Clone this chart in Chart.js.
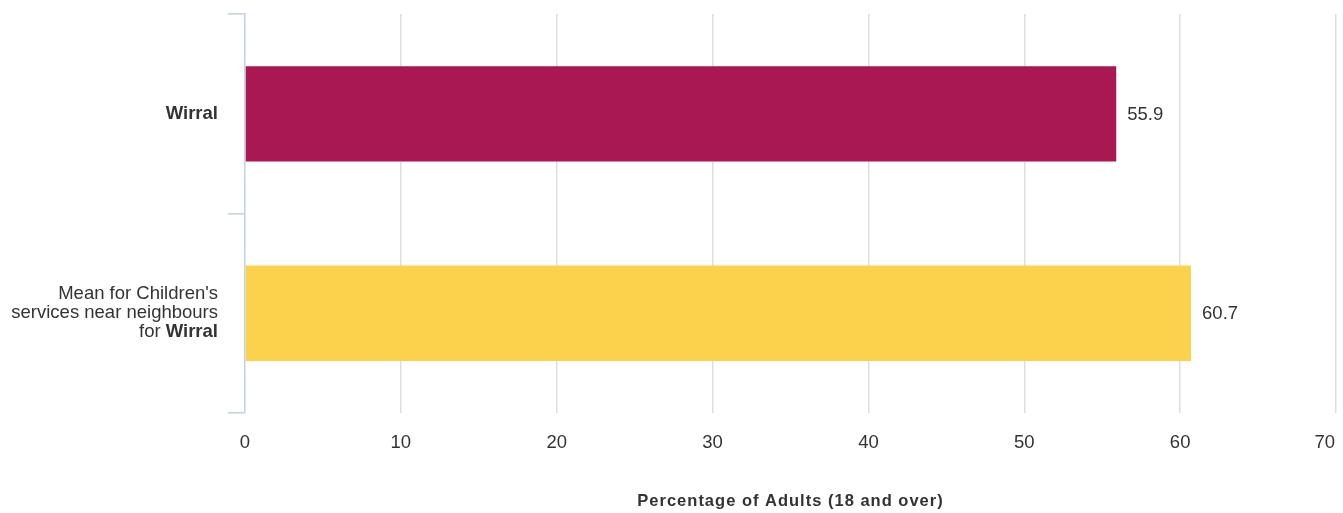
<!DOCTYPE html>
<html>
<head>
<meta charset="utf-8">
<script src="https://cdn.jsdelivr.net/npm/chart.js@4.4.1/dist/chart.umd.min.js"></script>
<style>
  body { margin: 0; background: #ffffff; }
  #wrap { width: 1343px; height: 513px; }
</style>
</head>
<body>
<div id="wrap"><canvas id="chart" width="1343" height="513"></canvas></div>
<script>
// data
const categories = ['Wirral', "Mean for Children's services near neighbours for Wirral"];
const categoryLines = [
    ['Wirral'],
    ["Mean for Children's", 'services near neighbours', 'for Wirral']
];
const boldWord = 'Wirral';
const values = [55.9, 60.7];
const barColors = ['#A91853', '#FAD24B'];
const xTicks = [0, 10, 20, 30, 40, 50, 60, 70];
const xTitle = 'Percentage of Adults (18 and over)';

const FONT = "'Liberation Sans', Arial, sans-serif";
const TEXT = '#333333';

// category labels with the bold place name, drawn by hand
const categoryLabelPlugin = {
    id: 'categoryLabels',
    afterDraw(chart) {
        const ctx = chart.ctx;
        const yScale = chart.scales.y;
        const rightX = 218;
        const lineH = 19;
        ctx.save();
        ctx.textBaseline = 'middle';
        ctx.fillStyle = TEXT;
        categoryLines.forEach((lines, i) => {
            const cy = yScale.getPixelForValue(i);
            const startY = cy - (lines.length - 1) * lineH / 2;
            lines.forEach((line, j) => {
                // split the line around the bold word
                const parts = [];
                const idx = line.indexOf(boldWord);
                if (idx === -1) {
                    parts.push({ t: line, b: false });
                } else {
                    if (idx > 0) parts.push({ t: line.slice(0, idx), b: false });
                    parts.push({ t: boldWord, b: true });
                    if (idx + boldWord.length < line.length) parts.push({ t: line.slice(idx + boldWord.length), b: false });
                }
                let total = 0;
                parts.forEach(p => {
                    ctx.font = (p.b ? 'bold ' : '') + '18.5px ' + FONT;
                    p.w = ctx.measureText(p.t).width;
                    total += p.w;
                });
                let x = rightX - total;
                const y = startY + j * lineH;
                ctx.textAlign = 'left';
                parts.forEach(p => {
                    ctx.font = (p.b ? 'bold ' : '') + '18.5px ' + FONT;
                    ctx.fillText(p.t, x, y);
                    x += p.w;
                });
            });
        });

        // last x tick label kept inside the canvas, right aligned on its gridline
        const xScale = chart.scales.x;
        const last = xTicks[xTicks.length - 1];
        ctx.font = '18.5px ' + FONT;
        ctx.textAlign = 'right';
        ctx.fillText(String(last), xScale.getPixelForValue(last) - 1, chart.chartArea.bottom + 30);

        // axis title, slightly letter-spaced
        ctx.font = 'bold 16.5px ' + FONT;
        ctx.textAlign = 'center';
        ctx.letterSpacing = '1px';
        ctx.fillText(xTitle, (chart.chartArea.left + chart.chartArea.right) / 2, 501);
        ctx.restore();
    }
};

// value labels at the end of each bar
const valueLabelPlugin = {
    id: 'valueLabels',
    afterDatasetsDraw(chart) {
        const ctx = chart.ctx;
        const meta = chart.getDatasetMeta(0);
        ctx.save();
        ctx.font = '18.5px ' + FONT;
        ctx.fillStyle = TEXT;
        ctx.textAlign = 'left';
        ctx.textBaseline = 'middle';
        meta.data.forEach((bar, i) => {
            ctx.fillText(values[i].toFixed(1), bar.x + 11, bar.y + 1);
        });
        ctx.restore();
    }
};

const ctx = document.getElementById('chart').getContext('2d');
new Chart(ctx, {
    type: 'bar',
    data: {
        labels: categories,
        datasets: [{
            data: values,
            backgroundColor: barColors,
            borderWidth: 0,
            barPercentage: 0.478,
            categoryPercentage: 1
        }]
    },
    options: {
        indexAxis: 'y',
        responsive: false,
        animation: false,
        layout: { padding: { top: 10, right: 7, left: 0, bottom: 0 } },
        plugins: {
            legend: { display: false },
            tooltip: { enabled: false }
        },
        scales: {
            x: {
                min: 0,
                max: 70,
                afterBuildTicks: scale => {
                    scale.ticks = xTicks.map(v => ({ value: v }));
                },
                afterFit: scale => {
                    scale.height = 100;
                    scale.paddingLeft = 0;
                    scale.paddingRight = 0;
                },
                grid: {
                    color: c => c.tick && c.tick.value === 0 ? 'rgba(0,0,0,0)' : '#dedede',
                    lineWidth: 1.5,
                    drawTicks: false
                },
                border: { display: false },
                ticks: {
                    padding: 19,
                    color: TEXT,
                    font: { family: FONT, size: 18.5 },
                    callback: v => v === xTicks[xTicks.length - 1] ? '' : String(v)
                }
            },
            y: {
                afterFit: scale => { scale.width = 245; },
                grid: {
                    offset: true,
                    drawOnChartArea: false,
                    color: '#c6d3e3',
                    lineWidth: 1.6,
                    tickLength: 17
                },
                border: { display: true, color: '#c6d3e3', width: 1.6 },
                ticks: {
                    callback: () => '',
                    font: { family: FONT, size: 18.5 }
                }
            }
        }
    },
    plugins: [categoryLabelPlugin, valueLabelPlugin]
});
</script>
</body>
</html>
